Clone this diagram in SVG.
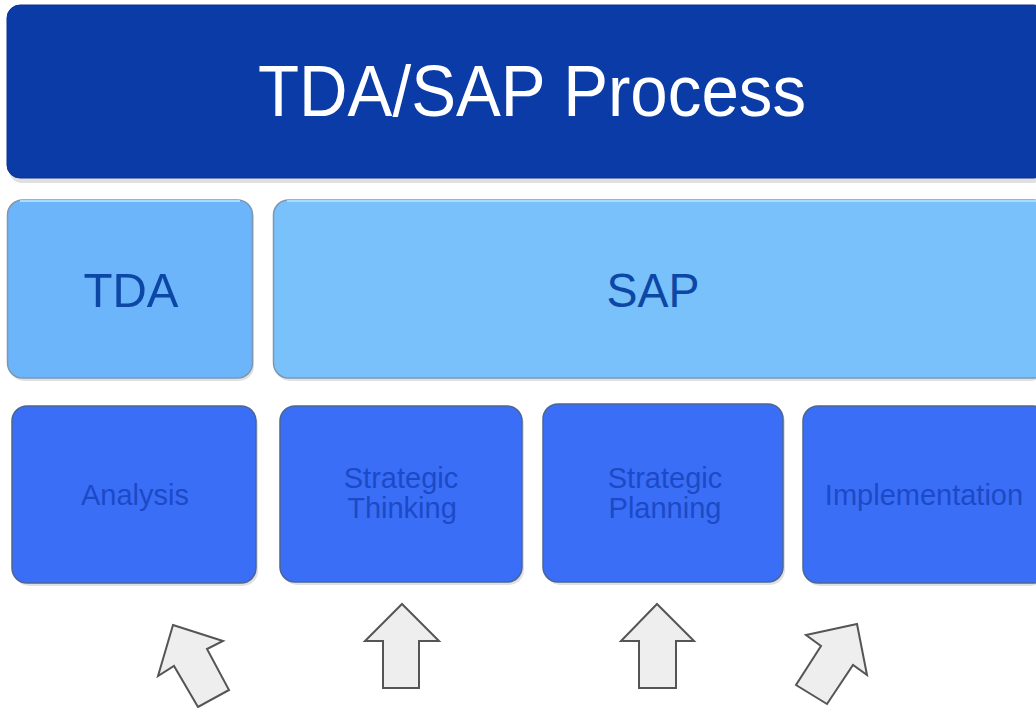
<svg xmlns="http://www.w3.org/2000/svg" width="1036" height="708" viewBox="0 0 1036 708">
<defs>
<style>
.t{font-family:"Liberation Sans",Arial,sans-serif;text-anchor:middle}
.title{fill:#ffffff;font-size:73px}
.mid{fill:#0d47a6;font-size:49px}
.low{fill:#1c4ac6;font-size:29px}
.banner{fill:#0b3ba6;stroke:#0a3393;stroke-width:1}
.lb{fill:#6db5fa;stroke:#7d97b3;stroke-width:1.5}
.lb2{fill:#78c1fb;stroke:#7d97b3;stroke-width:1.5}
.db{fill:#3a6ef7;stroke:#4a6598;stroke-width:1.5}
.sh{fill:#000;opacity:0.12}
.arr{fill:#eeeeee;stroke:#555555;stroke-width:2;stroke-linejoin:miter}
</style>
</defs>
<rect width="1036" height="708" fill="#ffffff"/>
<g id="title">
<rect class="sh" x="9" y="9" width="1036" height="174" rx="13"/>
<rect class="banner" x="7" y="5" width="1040" height="173" rx="13"/>
<text class="t title" x="532" y="116" textLength="548" lengthAdjust="spacingAndGlyphs">TDA/SAP Process</text>
</g>
<g id="tda">
<rect class="sh" x="9" y="203" width="245" height="178" rx="15"/>
<rect class="lb" x="7.5" y="200" width="245" height="178" rx="15"/>
<line x1="20" y1="201" x2="240" y2="201" stroke="#a8dcff" stroke-width="2"/>
<text class="t mid" x="131" y="307" textLength="95" lengthAdjust="spacingAndGlyphs">TDA</text>
</g>
<g id="sap">
<rect class="sh" x="275" y="203" width="770" height="178" rx="15"/>
<rect class="lb2" x="273.5" y="200" width="775" height="178" rx="15"/>
<line x1="287" y1="201" x2="1036" y2="201" stroke="#a8dcff" stroke-width="2"/>
<text class="t mid" x="653" y="307" textLength="93" lengthAdjust="spacingAndGlyphs">SAP</text>
</g>
<g id="analysis">
<rect class="sh" x="14" y="409" width="244" height="177" rx="15"/>
<rect class="db" x="12" y="406" width="244" height="177" rx="15"/>
<text class="t low" x="135" y="505">Analysis</text>
</g>
<g id="thinking">
<rect class="sh" x="282" y="409" width="242" height="176" rx="15"/>
<rect class="db" x="280" y="406" width="242" height="176" rx="15"/>
<text class="t low" x="401" y="488">Strategic</text>
<text class="t low" x="402" y="518">Thinking</text>
</g>
<g id="planning">
<rect class="sh" x="545" y="407" width="240" height="178" rx="15"/>
<rect class="db" x="543" y="404" width="240" height="178" rx="15"/>
<text class="t low" x="665" y="488">Strategic</text>
<text class="t low" x="665" y="518">Planning</text>
</g>
<g id="implementation">
<rect class="sh" x="805" y="409" width="240" height="177" rx="15"/>
<rect class="db" x="803" y="406" width="245" height="177" rx="15"/>
<text class="t low" x="924" y="505">Implementation</text>
</g>
<g id="connectors">
<polygon class="arr" points="173,625 223,641 207,649 229,690 198,707 174,666 158,676"/>
<polygon class="arr" points="402,604 439,641 419,641 419,688 383,688 383,641 365,641"/>
<polygon class="arr" points="657,604 694,641 676,641 676,688 639,688 639,641 621,641"/>
<polygon class="arr" points="857,624 867,675 853,665 827,704 796,685 821,646 806,635"/>
</g>
</svg>
